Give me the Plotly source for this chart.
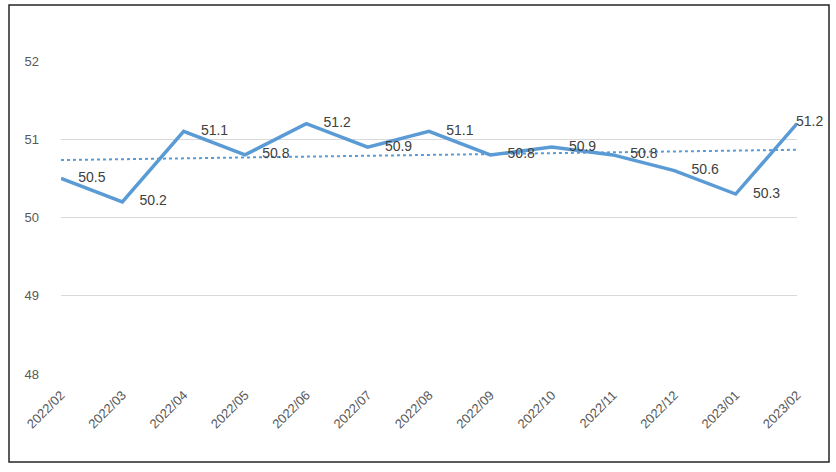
import numpy as np
import plotly.graph_objects as go

categories = ["2022/02", "2022/03", "2022/04", "2022/05", "2022/06", "2022/07", "2022/08",
              "2022/09", "2022/10", "2022/11", "2022/12", "2023/01", "2023/02"]
values = [50.5, 50.2, 51.1, 50.8, 51.2, 50.9, 51.1, 50.8, 50.9, 50.8, 50.6, 50.3, 51.2]
y_ticks = [48, 49, 50, 51, 52]

idx = np.arange(len(values))
slope, intercept = np.polyfit(idx, values, 1)
trend = slope * idx + intercept

labels = [f"{v:.1f}" for v in values]
trace_labels = labels[:-1] + [""]

blue = "#5B9BD5"
label_font = dict(family="Liberation Sans, Arial, sans-serif", size=14, color="#404040")
fig = go.Figure()
fig.add_trace(go.Scatter(
    x=categories, y=trend, mode="lines",
    line=dict(color=blue, width=2, dash="dot"), hoverinfo="skip", showlegend=False))
fig.add_trace(go.Scatter(
    x=categories, y=values, mode="lines+markers+text",
    text=trace_labels, textposition="middle right", textfont=label_font,
    marker=dict(size=26, color="rgba(0,0,0,0)", line=dict(width=0)),
    line=dict(color=blue, width=3.5), showlegend=False, cliponaxis=False))

fig.update_layout(
    width=836, height=472,
    margin=dict(l=61, r=39, t=61, b=98),
    paper_bgcolor="white", plot_bgcolor="white",
    font=dict(family="Liberation Sans, Arial, sans-serif", size=12, color="#595959"),
    xaxis=dict(type="category", range=[0, len(categories) - 1], showgrid=False,
               showline=False, ticks="", tickangle=-45, ticklabelstandoff=10,
               tickfont=dict(size=13, color="#595959")),
    yaxis=dict(range=[48, 52], tickvals=y_ticks, showgrid=True, gridcolor="#D9D9D9",
               gridwidth=1, zeroline=False, showline=False, ticks="",
               ticklabelstandoff=21, tickfont=dict(size=13, color="#595959")),
    annotations=[dict(x=categories[-1], y=values[-1], text=labels[-1], showarrow=False,
                      xanchor="left", yanchor="middle", xshift=-3, yshift=3, font=label_font)],
    shapes=[dict(type="rect", xref="paper", yref="paper",
                 x0=(9 - 61) / 736, x1=(829 - 61) / 736,
                 y0=-(462 - 374) / 313, y1=1 + (61 - 5) / 313,
                 line=dict(color="#262626", width=1.5), fillcolor="rgba(0,0,0,0)")],
)
fig.write_html("out.html", config={"displayModeBar": False},
               post_script="document.body.style.margin='0px';document.body.style.overflow='hidden';")
